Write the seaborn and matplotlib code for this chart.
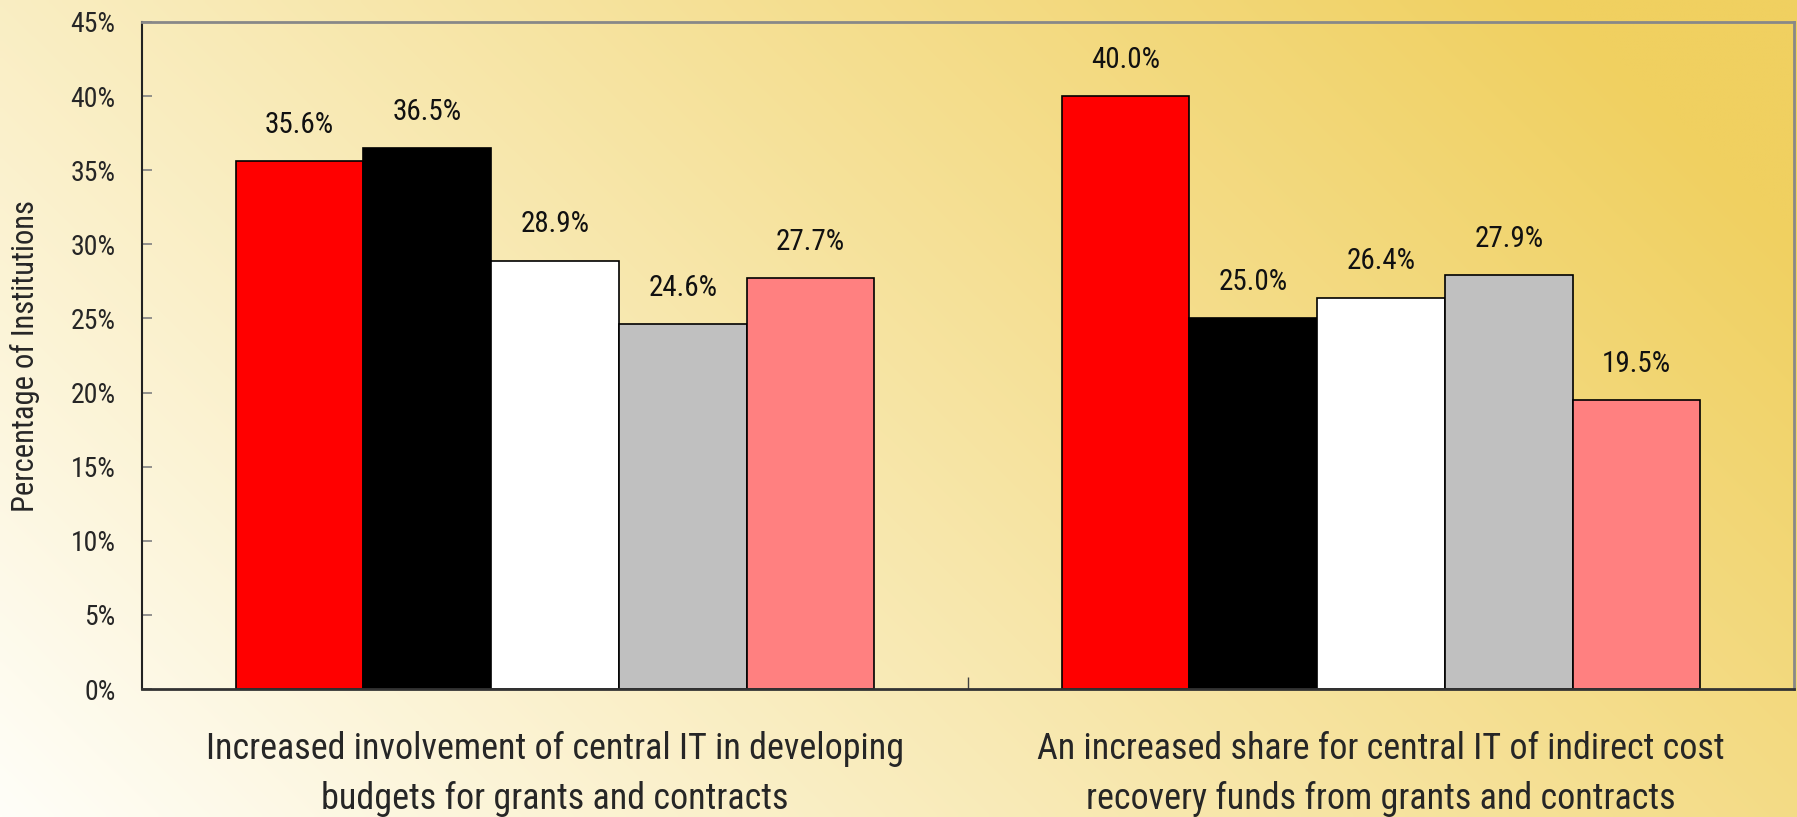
import numpy as np
import pandas as pd
import matplotlib
matplotlib.use("Agg")
import matplotlib.pyplot as plt
from matplotlib import font_manager
from matplotlib.ticker import PercentFormatter, FixedLocator
import seaborn as sns

# ---- data -------------------------------------------------------------
categories = [
    "Increased involvement of central IT in developing\nbudgets for grants and contracts",
    "An increased share for central IT of indirect cost\nrecovery funds from grants and contracts",
]
series = ["Series 1", "Series 2", "Series 3", "Series 4", "Series 5"]
values_cat1 = [35.6, 36.5, 28.9, 24.6, 27.7]
values_cat2 = [40.0, 25.0, 26.4, 27.9, 19.5]
bar_colors = ["#FF0000", "#000000", "#FFFFFF", "#C0C0C0", "#FF8080"]
y_ticks = [0, 5, 10, 15, 20, 25, 30, 35, 40, 45]

df = pd.DataFrame({
    "category": [categories[0]] * 5 + [categories[1]] * 5,
    "series": series * 2,
    "value": (np.array(values_cat1 + values_cat2) / 100.0),
})

# ---- style ------------------------------------------------------------
sns.set_style("white")
available = {f.name for f in font_manager.fontManager.ttflist}
family = [f for f in ["Liberation Sans Narrow", "Roboto Condensed", "DejaVu Sans"] if f in available]
plt.rcParams["font.family"] = family + ["DejaVu Sans"]

W, H, DPI = 1797, 817, 100
fig = plt.figure(figsize=(W / DPI, H / DPI), dpi=DPI)

# diagonal cream-to-gold background
xx, yy = np.meshgrid(np.linspace(0, 1, 400), np.linspace(1, 0, 200))
t = np.clip(0.75 * xx + 0.35 * yy, 0, 1)
c0 = np.array([255, 254, 248]) / 255.0
c1 = np.array([240, 208, 96]) / 255.0
grad = c0[None, None, :] * (1 - t[..., None]) + c1[None, None, :] * t[..., None]
bg = fig.add_axes([0, 0, 1, 1], zorder=-10)
bg.imshow(grad, aspect="auto", extent=[0, 1, 0, 1], interpolation="bilinear")
bg.axis("off")

ax = fig.add_axes([142 / W, 1 - 689 / H, (1794 - 142) / W, (689 - 22) / H])
ax.patch.set_alpha(0)

sns.barplot(
    data=df, x="category", y="value", hue="series",
    palette=bar_colors, width=0.773, gap=0, dodge=True,
    edgecolor="black", linewidth=1.2, saturation=1, legend=False, ax=ax,
)

for cont in ax.containers:
    ax.bar_label(cont, labels=[f"{v * 100:.1f}%" for v in cont.datavalues],
                 padding=16, fontsize=21, color="#111111")

ax.set_ylim(0, 0.45)
ax.set_xlim(-0.5, 1.5)
ax.yaxis.set_major_locator(FixedLocator([v / 100 for v in y_ticks]))
ax.yaxis.set_major_formatter(PercentFormatter(1.0, decimals=0))
ax.tick_params(axis="y", direction="in", length=7, width=1.2, color="#808080",
               pad=19, labelsize=20, left=True)
ax.tick_params(axis="x", which="major", length=0, pad=30, labelsize=26)
ax.set_xticks([0.5], minor=True)
ax.tick_params(axis="x", which="minor", direction="in", length=9, width=1,
               color="#404040", bottom=True)
for lbl in ax.get_xticklabels():
    lbl.set_linespacing(1.5)

ax.set_xlabel("")
ax.set_ylabel("Percentage of Institutions", fontsize=22)
ax.yaxis.set_label_coords(-(142 - 40) / (1794 - 142), 0.5)

for side in ["top", "right"]:
    ax.spines[side].set_visible(True)
    ax.spines[side].set_color("#888888")
    ax.spines[side].set_linewidth(2)
ax.spines["left"].set_color("#222222")
ax.spines["left"].set_linewidth(1.5)
ax.spines["bottom"].set_color("#333333")
ax.spines["bottom"].set_linewidth(2)

fig.savefig("out.png", dpi=DPI)
